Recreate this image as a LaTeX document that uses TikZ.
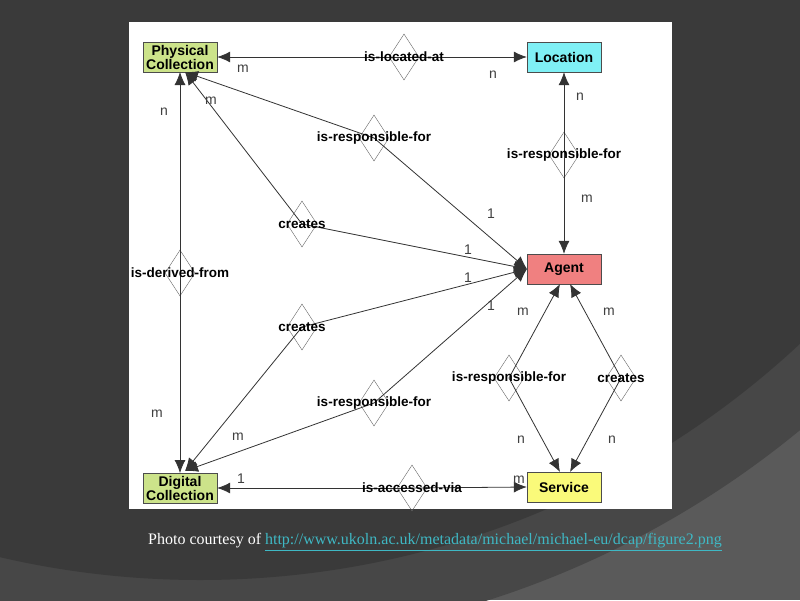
\documentclass[tikz,border=0pt]{standalone}
\usepackage{fontspec}
\setmainfont{Liberation Serif}
\newfontfamily\arial{Liberation Sans}
\usetikzlibrary{shapes.geometric,arrows.meta}
\definecolor{bgdark}{HTML}{3A3A3A}
\definecolor{bglight}{HTML}{5A5A5A}
\definecolor{bgmid}{HTML}{474747}
\definecolor{pcgreen}{HTML}{CCE38A}
\definecolor{loccyan}{HTML}{7FF0F5}
\definecolor{agred}{HTML}{F08080}
\definecolor{svyellow}{HTML}{FAFA7A}
\definecolor{linkc}{HTML}{3FB8C4}
\tikzset{
  ent/.style={draw=black!70,minimum width=74pt,minimum height=30pt,inner sep=0pt,align=center,font=\arial\bfseries\fontsize{14}{14}\selectfont},
  rel/.style={draw=black!60,diamond,minimum width=30pt,minimum height=46pt,inner sep=0pt,aspect=0.65},
  rlab/.style={font=\arial\bfseries\fontsize{13.5}{14}\selectfont},
  card/.style={font=\arial\fontsize{14}{14}\selectfont,text=black!75},
  ln/.style={draw=black!80,line width=0.8pt},
  tip/.style={-{Latex[length=13pt,width=11pt]}},
}
\begin{document}
\begin{tikzpicture}[x=1pt,y=-1pt]
\useasboundingbox (0,0) rectangle (800,600);
\fill[bglight] (0,0) rectangle (800,600);
\fill[bgmid] (200,-300) circle (945);
\fill[bgdark] (200,-300) circle (880);
\fill[white] (129,22) rectangle (672,509);
% entities
\node[ent,fill=pcgreen] (pc) at (180,57) {Physical\\Collection};
\node[ent,fill=loccyan] (loc) at (564,57) {Location};
\node[ent,fill=agred] (ag) at (564,269) {Agent};
\node[ent,fill=pcgreen] (dc) at (180,488) {Digital\\Collection};
\node[ent,fill=svyellow] (sv) at (564,487) {Service};
% relation diamonds
\node[rel] (r1) at (404,57) {};
\node[rel] (r2) at (374,138) {};
\node[rel] (r3) at (302,224) {};
\node[rel] (r4) at (564,155) {};
\node[rel] (r5) at (180,273) {};
\node[rel] (r6) at (302,327) {};
\node[rel] (r7) at (374,403) {};
\node[rel] (r8) at (509,378) {};
\node[rel] (r9) at (621,378) {};
\node[rel] (r10) at (412,488) {};
\coordinate (pcb) at (185,72);
\coordinate (dct) at (185,471);
\coordinate (agl) at (527,269);
\coordinate (agb1) at (560,284);
\coordinate (agb2) at (570,284);
\coordinate (svt1) at (560,472);
\coordinate (svt2) at (570,472);
% connectors
\draw[ln,tip] (r1.center) -- (pc.east);
\draw[ln,tip] (r1.center) -- (loc.west);
\draw[ln,tip] (r2.center) -- (pcb);
\draw[ln,tip] (r2.center) -- (agl);
\draw[ln,tip] (r3.center) -- (pcb);
\draw[ln,tip] (r3.center) -- (agl);
\draw[ln,tip] (r4.center) -- (loc.south);
\draw[ln,tip] (r4.center) -- (ag.north);
\draw[ln,tip] (r5.center) -- (180,72);
\draw[ln,tip] (r5.center) -- (180,473);
\draw[ln,tip] (r6.center) -- (agl);
\draw[ln,tip] (r6.center) -- (dct);
\draw[ln,tip] (r7.center) -- (agl);
\draw[ln,tip] (r7.center) -- (dct);
\draw[ln,tip] (r8.center) -- (agb1);
\draw[ln,tip] (r8.center) -- (svt1);
\draw[ln,tip] (r9.center) -- (agb2);
\draw[ln,tip] (r9.center) -- (svt2);
\draw[ln,tip] (r10.center) -- (dc.east);
\draw[ln,tip] (r10.center) -- (sv.west);
% relation labels
\node[rlab] at (r1) {is-located-at};
\node[rlab] at (r2) {is-responsible-for};
\node[rlab] at (r3) {creates};
\node[rlab] at (r4) {is-responsible-for};
\node[rlab] at (r5) {is-derived-from};
\node[rlab] at (r6) {creates};
\node[rlab] at (r7) {is-responsible-for};
\node[rlab] at (r8) {is-responsible-for};
\node[rlab] at (r9) {creates};
\node[rlab] at (r10) {is-accessed-via};
% cardinalities
\node[card] at (243,69) {m};
\node[card] at (493,75) {n};
\node[card] at (164,112) {n};
\node[card] at (211,101) {m};
\node[card] at (580,97) {n};
\node[card] at (587,199) {m};
\node[card] at (491,214) {1};
\node[card] at (468,250) {1};
\node[card] at (468,278) {1};
\node[card] at (491,306) {1};
\node[card] at (157,414) {m};
\node[card] at (238,437) {m};
\node[card] at (523,312) {m};
\node[card] at (609,312) {m};
\node[card] at (521,440) {n};
\node[card] at (612,440) {n};
\node[card] at (241,479) {1};
\node[card] at (519,480) {m};
% caption
\node[anchor=west,text=white,font=\fontsize{16}{16}\selectfont,inner sep=0pt] (cap) at (148,542) {Photo courtesy of \textcolor{linkc}{\underline{http://www.ukoln.ac.uk/metadata/michael/michael-eu/dcap/figure2.png}}};
\end{tikzpicture}
\end{document}
